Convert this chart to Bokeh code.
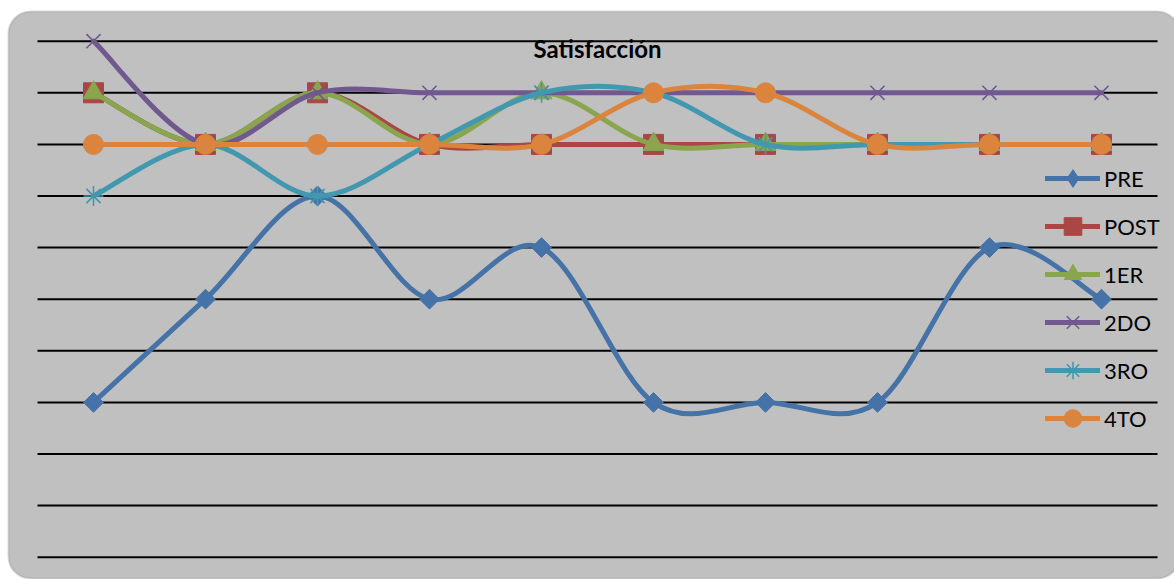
from bokeh.plotting import figure
from bokeh.models import Range1d, Legend, LegendItem, BoxAnnotation, Label
from bokeh.embed import file_html
from bokeh.resources import INLINE

# ---- data -------------------------------------------------------------
categories = [1, 2, 3, 4, 5, 6, 7, 8, 9, 10]
pre_vals  = [3, 5, 7, 5, 6, 3, 3, 3, 6, 5]
post_vals = [9, 8, 9, 8, 8, 8, 8, 8, 8, 8]
er1_vals  = [9, 8, 9, 8, 9, 8, 8, 8, 8, 8]
do2_vals  = [10, 8, 9, 9, 9, 9, 9, 9, 9, 9]
ro3_vals  = [7, 8, 7, 8, 9, 9, 8, 8, 8, 8]
to4_vals  = [8, 8, 8, 8, 8, 9, 9, 8, 8, 8]
grid_ticks = [0, 1, 2, 3, 4, 5, 6, 7, 8, 9, 10]
series_names = ["PRE", "POST", "1ER", "2DO", "3RO", "4TO"]
title_text = "Satisfacción"

# ---- layout (pixels) ----------------------------------------------------
W, H = 1174, 579
X0_PX, X_STEP = 93.0, 112.0          # first category centre, category width
Y0_PX, Y10_PX = 556.7, 40.7          # value 0 and value 10 rows
Y_UNIT = (Y0_PX - Y10_PX) / 10.0

x_start = 1 - X0_PX / X_STEP
x_end = x_start + W / X_STEP
y_top = 10 + Y10_PX / Y_UNIT
y_bottom = -(H - Y0_PX) / Y_UNIT


def px_x(px):
    return x_start + px / X_STEP


def px_y(py):
    return y_top - py / Y_UNIT


FONT = "Lato"
NAN = float("nan")

p = figure(width=W, height=H, output_backend="svg", toolbar_location=None,
           x_range=Range1d(x_start, x_end), y_range=Range1d(y_bottom, y_top),
           x_axis_location=None, y_axis_location=None, title=None,
           min_border=0, tools="")
p.grid.visible = False
p.outline_line_color = None
p.background_fill_color = "white"
p.border_fill_color = "white"

# rounded chart-area panel
panel = BoxAnnotation(left=px_x(8), right=px_x(1179), top=px_y(11), bottom=px_y(578),
                      fill_color="#c0c0c0", fill_alpha=1.0,
                      line_color="#8a8a8a", line_width=2, border_radius=22,
                      level="underlay")
p.add_layout(panel)

# horizontal gridlines spanning the category band
p.segment(x0=[categories[0] - 0.5] * len(grid_ticks),
          x1=[categories[-1] + 0.5] * len(grid_ticks),
          y0=grid_ticks, y1=grid_ticks, line_color="black", line_width=2)


def bezier_parts(xs, ys):
    """Smoothed (Catmull-Rom style) cubic segments through the points."""
    n = len(xs)
    out = dict(x0=[], y0=[], x1=[], y1=[], cx0=[], cy0=[], cx1=[], cy1=[])
    for i in range(n - 1):
        a = i - 1 if i > 0 else i
        d = i + 2 if i + 2 < n else i + 1
        out["x0"].append(xs[i]); out["y0"].append(ys[i])
        out["x1"].append(xs[i + 1]); out["y1"].append(ys[i + 1])
        out["cx0"].append(xs[i] + (xs[i + 1] - xs[a]) / 6.0)
        out["cy0"].append(ys[i] + (ys[i + 1] - ys[a]) / 6.0)
        out["cx1"].append(xs[i + 1] - (xs[d] - xs[i]) / 6.0)
        out["cy1"].append(ys[i + 1] - (ys[d] - ys[i]) / 6.0)
    return out


# (values, colour, marker style on the chart, marker used in the legend)
series = [
    (pre_vals,  "#4572a7", dict(marker="square", size=14, angle=0.785398), "diamond"),
    (post_vals, "#aa4643", dict(marker="square", size=20), None),
    (er1_vals,  "#89a54e", dict(marker="triangle", size=21), None),
    (do2_vals,  "#71588f", dict(marker="x", size=20, line_width=1.6), None),
    (ro3_vals,  "#4198af", dict(marker="asterisk", size=20, line_width=1.6), None),
    (to4_vals,  "#db843d", dict(marker="circle", size=20), None),
]

LW = 5
legend_items = []
for name, (vals, color, mk, legend_marker) in zip(series_names, series):
    p.bezier(line_color=color, line_width=LW, line_cap="round",
             **bezier_parts(categories, vals))
    if mk["marker"] in ("x", "asterisk"):
        sc = p.scatter(categories, vals, line_color=color, **mk)
    else:
        sc = p.scatter(categories, vals, fill_color=color, line_color=color, **mk)
    # legend sample line (no visible points of its own)
    ln = p.line(x=[NAN], y=[NAN], line_color=color, line_width=LW, line_cap="round")
    if legend_marker is not None:
        sc = p.scatter(x=[NAN], y=[NAN], marker=legend_marker,
                       fill_color=color, line_color=color)
    legend_items.append(LegendItem(label=name, renderers=[ln, sc]))

legend = Legend(items=legend_items, location=(1045, 139),
                glyph_width=55, glyph_height=44, label_height=20, spacing=4,
                label_standoff=4, padding=0, margin=0,
                label_text_font=FONT, label_text_font_size="22px",
                label_text_color="black",
                border_line_color=None, background_fill_alpha=0)
p.add_layout(legend)

p.add_layout(Label(x=px_x(597), y=px_y(48), text=title_text,
                   text_font=FONT, text_font_size="24px", text_font_style="bold",
                   text_align="center", text_baseline="middle", text_color="black"))

open("out.html", "w").write(file_html(p, INLINE))
